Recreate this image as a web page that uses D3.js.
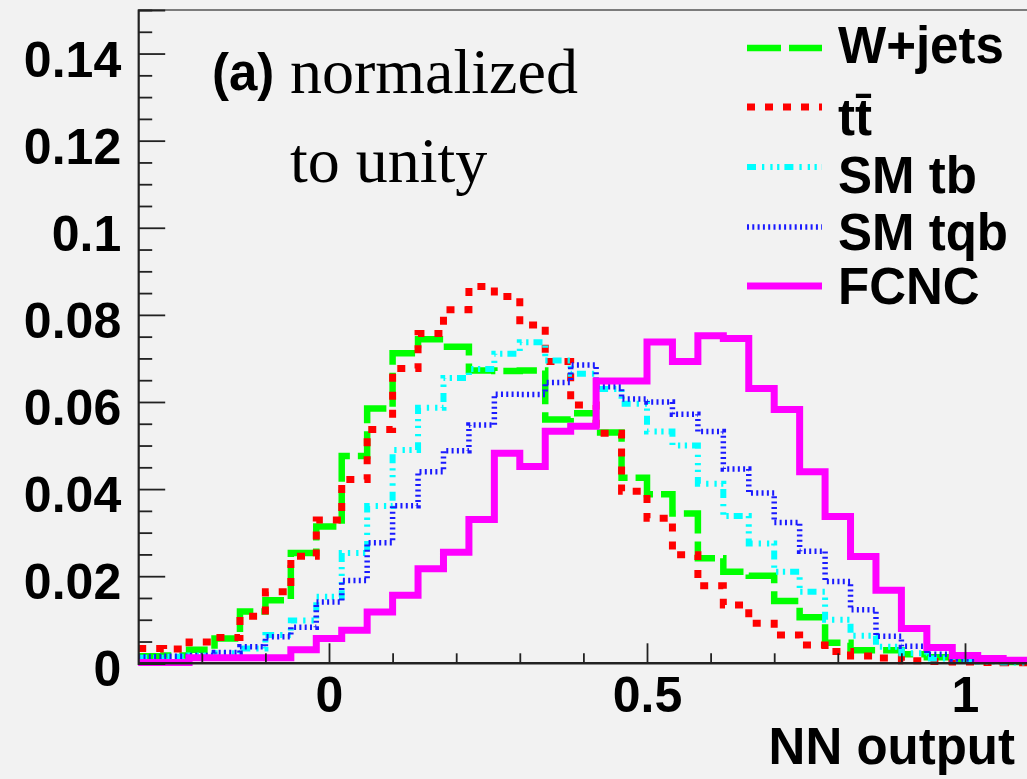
<!DOCTYPE html>
<html>
<head>
<meta charset="utf-8">
<script src="https://cdn.jsdelivr.net/npm/d3@7"></script>
<style>
  html, body { margin: 0; padding: 0; background: #f2f2f2; }
  svg { display: block; }
</style>
</head>
<body>
<svg id="chart" width="1027" height="779"></svg>
<script>
// NN output distributions, each histogram normalised to unit area.
// 35 bins of width 0.04 starting at -0.3.
const binLow = -0.3;
const binWidth = 0.04;

const wjets = [0.0016, 0.0018, 0.0031, 0.0057, 0.0119, 0.0145, 0.0253, 0.0314, 0.0476, 0.0585,
               0.0712, 0.0744, 0.0727, 0.0672, 0.0671, 0.0672, 0.0560, 0.0574, 0.0530, 0.0426,
               0.0388, 0.0344, 0.0241, 0.0210, 0.0201, 0.0143, 0.0106, 0.0047, 0.0030, 0.0030,
               0.0021, 0.0014, 0.0008, 0.0005, 0.0003];
const ttbar = [0.0034, 0.0033, 0.0049, 0.0059, 0.0108, 0.0164, 0.0246, 0.0329, 0.0422, 0.0537,
               0.0677, 0.0757, 0.0812, 0.0865, 0.0842, 0.0777, 0.0693, 0.0593, 0.0528, 0.0395,
               0.0333, 0.0249, 0.0178, 0.0134, 0.0092, 0.0065, 0.0042, 0.0027, 0.0017, 0.0012,
               0.0006, 0.0004, 0.0003, 0.0002, 0.0001];
const smTb  = [0.0013, 0.0015, 0.0018, 0.0023, 0.0034, 0.0065, 0.0098, 0.0153, 0.0253, 0.0361,
               0.0490, 0.0587, 0.0655, 0.0676, 0.0711, 0.0737, 0.0695, 0.0665, 0.0630, 0.0596,
               0.0532, 0.0500, 0.0412, 0.0338, 0.0275, 0.0210, 0.0164, 0.0100, 0.0063, 0.0038,
               0.0023, 0.0011, 0.0006, 0.0004, 0.0002];
const smTqb = [0.0015, 0.0016, 0.0018, 0.0025, 0.0038, 0.0061, 0.0083, 0.0141, 0.0190, 0.0277,
               0.0362, 0.0440, 0.0488, 0.0547, 0.0618, 0.0617, 0.0645, 0.0685, 0.0635, 0.0607,
               0.0600, 0.0572, 0.0532, 0.0446, 0.0391, 0.0323, 0.0257, 0.0188, 0.0123, 0.0062,
               0.0039, 0.0021, 0.0010, 0.0007, 0.0004];
const fcnc  = [0.0002, 0.0002, 0.0013, 0.0013, 0.0013, 0.0013, 0.0031, 0.0057, 0.0076, 0.0118,
               0.0156, 0.0217, 0.0255, 0.0330, 0.0482, 0.0452, 0.0533, 0.0544, 0.0648, 0.0648,
               0.0738, 0.0693, 0.0752, 0.0746, 0.0631, 0.0583, 0.0440, 0.0337, 0.0245, 0.0168,
               0.0080, 0.0036, 0.0018, 0.0011, 0.0007];

const seriesNames = ["W+jets", "t\u0074\u0304", "SM tb", "SM tqb", "FCNC"];
const seriesValues = [wjets, ttbar, smTb, smTqb, fcnc];

const xTickValues = [0, 0.5, 1];
const xTickLabels = ["0", "0.5", "1"];
const xMinorTicks = [-0.2, -0.1, 0.1, 0.2, 0.3, 0.4, 0.6, 0.7, 0.8, 0.9, 1.1];
const yTickValues = [0, 0.02, 0.04, 0.06, 0.08, 0.1, 0.12, 0.14];
const yTickLabels = ["0", "0.02", "0.04", "0.06", "0.08", "0.1", "0.12", "0.14"];
const xTitle = "NN output";

// Line styles per series (dashed / dotted / dash-dotted / fine dotted / solid)
const lineStyles = [
  { color: "#00ff00", width: 6.5, dash: "34,8" },
  { color: "#ff0000", width: 7,   dash: "8,10" },
  { color: "#00ffff", width: 6,   dash: "9,6,2.3,6,2.3,4.5,2.3,5" },
  { color: "#1a1aff", width: 5.5, dash: "2,3.3" },
  { color: "#ff00ff", width: 7,   dash: null }
];

const svg = d3.select("#chart");
const plotLeft = 138.2, plotTop = 10, plotBottom = 663.3;

const x = d3.scaleLinear().domain([-0.3, 1.1]).range([plotLeft, 1028.6]);
const y = d3.scaleLinear().domain([0, 0.15]).range([plotBottom, plotTop]);

// Background
svg.append("rect").attr("width", 1027).attr("height", 779).attr("fill", "#f2f2f2");

// Histogram outlines drawn as step lines
const stepLine = d3.line()
  .x(d => x(d[0]))
  .y(d => y(d[1]))
  .curve(d3.curveStepAfter);

seriesValues.forEach((vals, i) => {
  const pts = vals.map((v, k) => [binLow + k * binWidth, v]);
  pts.push([binLow + vals.length * binWidth, vals[vals.length - 1]]);
  const st = lineStyles[i];
  svg.append("path")
    .attr("d", stepLine(pts))
    .attr("fill", "none")
    .attr("stroke", st.color)
    .attr("stroke-width", st.width)
    .attr("stroke-dasharray", st.dash)
    .attr("stroke-linejoin", "miter");
});

// Frame: top border
svg.append("line")
  .attr("x1", plotLeft).attr("x2", 1027)
  .attr("y1", plotTop).attr("y2", plotTop)
  .attr("stroke", "#555").attr("stroke-width", 1.6);

const tickColor = "#222";
const labelFont = "'Liberation Sans', Arial, Helvetica, sans-serif";

// Y axis: inward ticks
const yMinorTicks = d3.range(0, 0.1501, 0.005).filter(v => !yTickValues.some(t => Math.abs(t - v) < 1e-9));
const yAxisG = svg.append("g").attr("transform", `translate(${plotLeft},0)`);
yAxisG.call(d3.axisRight(y).tickValues(yTickValues).tickSize(27).tickFormat(""));
yAxisG.append("g").call(d3.axisRight(y).tickValues(yMinorTicks).tickSize(14).tickFormat(""));
yAxisG.selectAll("path.domain").attr("stroke", tickColor).attr("stroke-width", 2.2);
yAxisG.selectAll(".tick line").attr("stroke", tickColor).attr("stroke-width", 1.8);
yAxisG.selectAll("g > g > path.domain").remove();

// Y labels
const yLabG = svg.append("g").attr("transform", `translate(${plotLeft},0)`);
yLabG.call(d3.axisLeft(y).tickValues(yTickValues).tickSize(0).tickPadding(17)
  .tickFormat((d, i) => yTickLabels[i]));
yLabG.select("path.domain").remove();
yLabG.selectAll("text")
  .attr("dy", "0.45em")
  .attr("fill", "#000")
  .style("font-family", labelFont)
  .style("font-weight", "bold")
  .style("font-size", "50px");

// X axis: ticks pointing up into the plot
const xAxisG = svg.append("g").attr("transform", `translate(0,${plotBottom})`);
xAxisG.call(d3.axisTop(x).tickValues(xTickValues).tickSize(20).tickFormat(""));
xAxisG.append("g").call(d3.axisTop(x).tickValues(xMinorTicks).tickSize(10).tickFormat(""));
xAxisG.selectAll("g > g > path.domain").remove();
xAxisG.select("path.domain")
  .attr("d", `M${plotLeft},0H1027`)
  .attr("stroke", tickColor).attr("stroke-width", 2.4);
xAxisG.selectAll(".tick line").attr("stroke", tickColor).attr("stroke-width", 1.8);

// X labels
const xLabG = svg.append("g").attr("transform", `translate(0,${plotBottom})`);
xLabG.call(d3.axisBottom(x).tickValues(xTickValues).tickSize(0).tickPadding(13)
  .tickFormat((d, i) => xTickLabels[i]));
xLabG.select("path.domain").remove();
xLabG.selectAll("text")
  .attr("fill", "#000")
  .style("font-family", labelFont)
  .style("font-weight", "bold")
  .style("font-size", "50px");

// X title
svg.append("text")
  .attr("x", 1015).attr("y", 764)
  .attr("text-anchor", "end")
  .style("font-family", labelFont)
  .style("font-weight", "bold")
  .style("font-size", "51px")
  .text(xTitle);

// Panel label and annotation
svg.append("text")
  .attr("x", 212).attr("y", 90)
  .style("font-family", labelFont)
  .style("font-weight", "bold")
  .style("font-size", "51px")
  .text("(a)");
svg.append("text")
  .attr("x", 290).attr("y", 93)
  .style("font-family", "'Liberation Serif', 'Times New Roman', serif")
  .style("font-size", "64px")
  .text("normalized");
svg.append("text")
  .attr("x", 290).attr("y", 182)
  .style("font-family", "'Liberation Serif', 'Times New Roman', serif")
  .style("font-size", "64px")
  .text("to unity");

// Legend
const legendLineY = [48, 107, 167, 227, 286];
const legendTextY = [63, 135, 193, 250, 304];
const legend = svg.append("g");
seriesNames.forEach((name, i) => {
  const st = lineStyles[i];
  legend.append("line")
    .attr("x1", 747).attr("x2", 822)
    .attr("y1", legendLineY[i]).attr("y2", legendLineY[i])
    .attr("stroke", st.color)
    .attr("stroke-width", st.width)
    .attr("stroke-dasharray", st.dash);
  legend.append("text")
    .attr("x", 838).attr("y", legendTextY[i])
    .style("font-family", labelFont)
    .style("font-weight", "bold")
    .style("font-size", "51px")
    .text(name);
});
</script>
</body>
</html>
